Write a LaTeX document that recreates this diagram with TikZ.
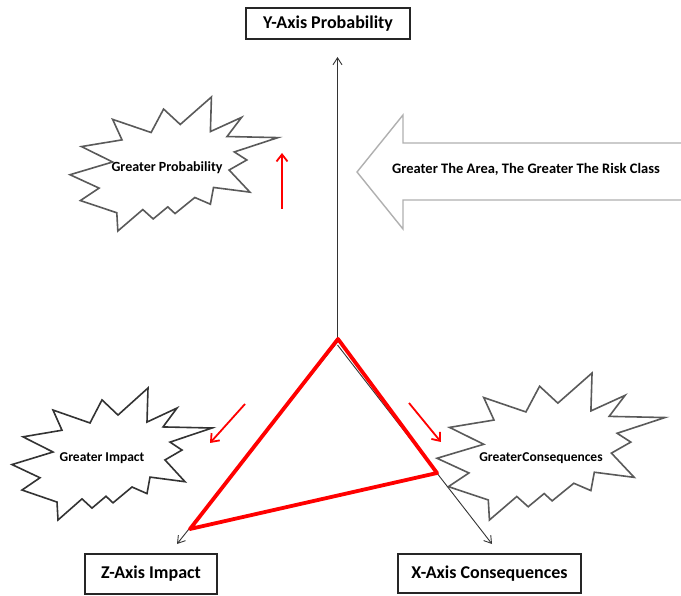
\documentclass[tikz,border=0pt]{standalone}
\usepackage{fontspec}
\setmainfont{Carlito}
\usetikzlibrary{arrows.meta}
\definecolor{stargray}{HTML}{5A5A5A}
\definecolor{arrowgray}{HTML}{B0B0B0}
\tikzset{
  axisbox/.style={draw=black!85, line width=1.4pt, fill=white, inner sep=0pt, font=\bfseries\fontsize{18}{20}\selectfont},
  axisline/.style={draw=black!80, line width=0.9pt, -{Straight Barb[length=7pt,width=9pt,line width=0.9pt]}},
  redarrow/.style={draw=red, line width=1.8pt, -{Straight Barb[length=7pt,width=11pt,line width=1.8pt]}},
  redtri/.style={draw=red, line width=3.8pt, line join=round},
  starline/.style={line width=1.6pt, fill=white, line join=miter},
  startext/.style={font=\bfseries\fontsize{13.5}{15}\selectfont, inner sep=0pt},
  bigarrow/.style={draw=arrowgray, line width=1.4pt, fill=white},
}
\newcommand{\explosionpath}{(0,0.58) -- (0.205,0.485) -- (0.055,0.37) -- (0.25,0.32) -- (0.205,0.167) -- (0.39,0.265) -- (0.45,0.09) -- (0.53,0.205) -- (0.68,0) -- (0.675,0.258) -- (0.825,0.152) -- (0.755,0.295) -- (1,0.303) -- (0.79,0.41) -- (0.85,0.47) -- (0.765,0.545) -- (0.865,0.71) -- (0.69,0.675) -- (0.675,0.80) -- (0.6,0.75) -- (0.505,0.87) -- (0.47,0.82) -- (0.40,0.91) -- (0.35,0.84) -- (0.23,1.0) -- (0.225,0.864) -- (0.05,0.773) -- (0.14,0.68) -- cycle}
\begin{document}
\begin{tikzpicture}[x=1pt,y=-1pt]
\useasboundingbox (0,0) rectangle (681,596);
\fill[white] (0,0) rectangle (681,596);

% explosion shapes
\begin{scope}[shift={(70,97)}, xscale=208, yscale=134]
  \draw[starline, draw=stargray] \explosionpath;
\end{scope}
\begin{scope}[shift={(12,388)}, xscale=200, yscale=132]
  \draw[starline, draw=black!80] \explosionpath;
\end{scope}
\begin{scope}[shift={(437,373)}, xscale=228, yscale=147]
  \draw[starline, draw=stargray] \explosionpath;
\end{scope}

\node[startext, font=\bfseries\fontsize{14}{16}\selectfont] (sprob) at (167,168) {Greater Probability};
\node[startext] (simp) at (102,458) {Greater Impact};
\node[startext] (scons) at (541,458) {Greater\kern0.5pt Consequences};

% big hollow arrow
\draw[bigarrow] (681,143) -- (403,143) -- (403,115) -- (357,172) -- (403,229) -- (403,200) -- (681,200);
\node[font=\bfseries\fontsize{14.5}{16}\selectfont, inner sep=0pt] (arrtext) at (526,169) {Greater The Area, The Greater The Risk Class};

% axis boxes
\node[axisbox, minimum width=164pt, minimum height=31pt] (ybox) at (328,23.5) {Y-Axis Probability};
\node[axisbox, minimum width=132pt, minimum height=40pt] (zbox) at (151,574) {Z-Axis Impact};
\node[axisbox, minimum width=183pt, minimum height=39pt] (xbox) at (489.5,573.5) {X-Axis Consequences};

% axes
\coordinate (apex) at (337.5,339);
\coordinate (apexz) at (337.5,342);
\coordinate (apexx) at (337.5,345);
\coordinate (ytip) at (337.5,57);
\coordinate (ztip) at (177,544);
\coordinate (xtip) at (492,544);
\draw[axisline] (apex) -- (ytip);
\draw[axisline] (apexz) -- (ztip);
\draw[axisline] (apexx) -- (xtip);

% red triangle
\coordinate (ta) at (338,339);
\coordinate (tb) at (437,473);
\coordinate (tc) at (190,529);
\draw[redtri] (ta) -- (tb) -- (tc) -- cycle;

% red arrows
\coordinate (r1s) at (282,209);
\coordinate (r1e) at (282,153);
\coordinate (r2s) at (245,404);
\coordinate (r2e) at (210,443);
\coordinate (r3s) at (409,403);
\coordinate (r3e) at (441,442);
\draw[redarrow] (r1s) -- (r1e);
\draw[redarrow] (r2s) -- (r2e);
\draw[redarrow] (r3s) -- (r3e);
\end{tikzpicture}
\end{document}
